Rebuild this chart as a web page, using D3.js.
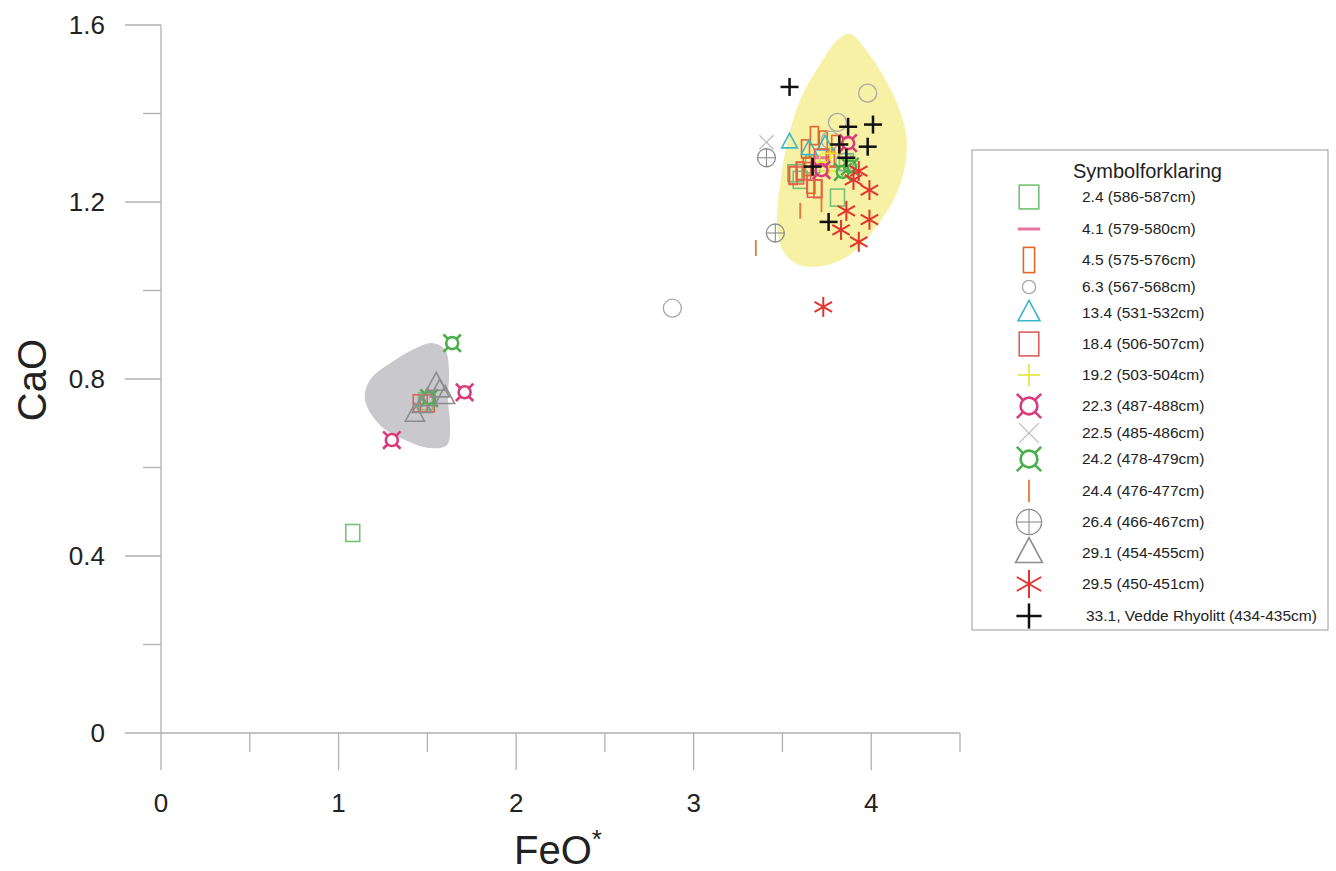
<!DOCTYPE html>
<html>
<head>
<meta charset="utf-8">
<script src="https://cdn.jsdelivr.net/npm/d3@7"></script>
<style>
  body { margin: 0; background: #fff; }
  svg { font-family: "Liberation Sans", Arial, sans-serif; }
</style>
</head>
<body>
<div id="chart"></div>
<script>
// series: [FeO*, CaO]
const s2_4 = [[1.08, 0.452], [3.57, 1.265], [3.81, 1.21], [3.67, 1.285], [3.86, 1.29], [3.60, 1.25], [1.49, 0.75]]
const s4_1 = [[3.72, 1.30], [3.78, 1.28]]
const s4_5 = [[3.63, 1.32], [3.68, 1.35], [3.60, 1.27], [3.70, 1.23], [3.77, 1.30], [3.66, 1.24], [3.56, 1.26], [3.73, 1.34], [3.80, 1.33], [3.64, 1.28]]
const s6_3 = [[3.98, 1.446], [3.81, 1.38], [2.88, 0.96], [3.77, 1.34], [3.85, 1.29]]
const s13_4 = [[3.54, 1.335], [3.74, 1.33], [3.65, 1.32]]
const s18_4 = [[1.46, 0.745], [1.50, 0.745], [3.68, 1.23], [3.62, 1.27], [3.72, 1.30], [3.58, 1.26]]
const s19_2 = [[3.71, 1.29], [3.77, 1.31], [3.76, 1.27]]
const s22_3 = [[1.30, 0.662], [1.71, 0.77], [3.87, 1.333], [3.72, 1.272]]
const s22_5 = [[3.41, 1.335]]
const s24_2 = [[1.64, 0.881], [1.51, 0.757], [3.84, 1.268], [3.88, 1.28]]
const s24_4 = [[3.35, 1.096], [3.60, 1.18], [3.72, 1.195]]
const s26_4 = [[3.41, 1.30], [3.46, 1.13]]
const s29_1 = [[1.43, 0.72], [1.50, 0.755], [1.55, 0.79], [1.57, 0.775], [1.47, 0.74], [1.60, 0.76]]
const s29_5 = [[3.93, 1.27], [3.99, 1.227], [3.86, 1.18], [3.99, 1.16], [3.83, 1.137], [3.93, 1.11], [3.73, 0.963], [3.90, 1.25]]
const s33_1 = [[3.54, 1.46], [4.01, 1.375], [3.98, 1.325], [3.87, 1.37], [3.82, 1.33], [3.67, 1.28], [3.86, 1.30], [3.76, 1.155]]

// envelopes
const yellowField = [[3.88, 1.580], [3.98, 1.539], [4.08, 1.476], [4.16, 1.408], [4.20, 1.340], [4.18, 1.261],
  [4.11, 1.193], [3.99, 1.125], [3.87, 1.078], [3.72, 1.055], [3.58, 1.060], [3.50, 1.092], [3.47, 1.159],
  [3.49, 1.250], [3.53, 1.340], [3.60, 1.431], [3.71, 1.510], [3.81, 1.566]]
const grayField = [[1.532, 0.881], [1.600, 0.866], [1.622, 0.820], [1.616, 0.753], [1.628, 0.696], [1.611, 0.651],
  [1.515, 0.644], [1.374, 0.662], [1.233, 0.696], [1.149, 0.753], [1.177, 0.798], [1.318, 0.843], [1.447, 0.872]]

const xTicks = [0, 1, 2, 3, 4]
const yTicks = [0, 0.4, 0.8, 1.2, 1.6]

const series = [
  { label: "2.4 (586-587cm)", sym: "rect", w: 14, h: 17, color: "#74c274", data: s2_4 },
  { label: "4.1 (579-580cm)", sym: "hbar", w: 16, color: "#e8749e", data: s4_1 },
  { label: "4.5 (575-576cm)", sym: "rect", w: 8, h: 18, color: "#e0662a", data: s4_5 },
  { label: "6.3 (567-568cm)", sym: "circle", r: 9, lr: 6, color: "#a8a8a8", data: s6_3 },
  { label: "13.4 (531-532cm)", sym: "tri", r: 9, color: "#3fb6c6", data: s13_4 },
  { label: "18.4 (506-507cm)", sym: "rect", w: 14, h: 17, color: "#e0605a", data: s18_4 },
  { label: "19.2 (503-504cm)", sym: "plus", r: 8, color: "#e4e436", data: s19_2 },
  { label: "22.3 (487-488cm)", sym: "curr", r: 6, color: "#d93a7e", data: s22_3 },
  { label: "22.5 (485-486cm)", sym: "x", r: 7, color: "#b8b8b8", data: s22_5 },
  { label: "24.2 (478-479cm)", sym: "curr", r: 6, color: "#4aaf4a", data: s24_2 },
  { label: "24.4 (476-477cm)", sym: "vbar", r: 8, color: "#e8763a", data: s24_4 },
  { label: "26.4 (466-467cm)", sym: "ocross", r: 9, color: "#8c8c8c", data: s26_4 },
  { label: "29.1 (454-455cm)", sym: "tri", r: 11, color: "#8c8c8c", data: s29_1 },
  { label: "29.5 (450-451cm)", sym: "ast", r: 10, color: "#e2332e", data: s29_5 },
  { label: "33.1, Vedde Rhyolitt (434-435cm)", sym: "plus", r: 9, color: "#111", sw: 2.5, data: s33_1 }
]

const width = 1336
const height = 871

const x = d3.scaleLinear().domain([0, 4.5]).range([161, 960])
const y = d3.scaleLinear().domain([0, 1.6]).range([733, 25])

const svg = d3.select("#chart").append("svg")
  .attr("width", width)
  .attr("height", height)

// draws one marker centred at 0,0 inside g, k scales it
function drawSymbol(g, s, k) {
  const c = s.color
  const sw = (s.sw || 1.6)
  const line = (x1, y1, x2, y2, w) => g.append("line")
    .attr("x1", x1).attr("y1", y1).attr("x2", x2).attr("y2", y2)
    .attr("stroke", c).attr("stroke-width", w || sw)
  if (s.sym == "rect") {
    g.append("rect").attr("x", -s.w * k / 2).attr("y", -s.h * k / 2)
      .attr("width", s.w * k).attr("height", s.h * k)
      .attr("fill", "none").attr("stroke", c).attr("stroke-width", sw)
  } else if (s.sym == "hbar") {
    line(-s.w * k / 2, 0, s.w * k / 2, 0, 3)
  } else if (s.sym == "vbar") {
    line(0, -s.r * k, 0, s.r * k, 1.8)
  } else if (s.sym == "circle") {
    g.append("circle").attr("r", k > 1 ? s.lr * 1.1 : s.r)
      .attr("fill", "none").attr("stroke", c).attr("stroke-width", 1.3)
  } else if (s.sym == "ocross") {
    const r = s.r * k
    g.append("circle").attr("r", r).attr("fill", "none").attr("stroke", c).attr("stroke-width", 1.3)
    line(-r, 0, r, 0, 1.1)
    line(0, -r, 0, r, 1.1)
  } else if (s.sym == "tri") {
    const r = s.r * k
    g.append("path").attr("d", `M0,${-r}L${r * 0.87},${r * 0.62}L${-r * 0.87},${r * 0.62}Z`)
      .attr("fill", "none").attr("stroke", c).attr("stroke-width", sw)
  } else if (s.sym == "plus") {
    const r = s.r * k
    line(-r, 0, r, 0)
    line(0, -r, 0, r)
  } else if (s.sym == "x") {
    const r = s.r * k
    line(-r, -r, r, r, 1.1)
    line(-r, r, r, -r, 1.1)
  } else if (s.sym == "curr") {
    const r = s.r * k
    g.append("circle").attr("r", r).attr("fill", "none").attr("stroke", c).attr("stroke-width", 2.6)
    const a = r * 0.7, b = r * 1.45
    line(a, a, b, b, 2.6); line(-a, a, -b, b, 2.6)
    line(a, -a, b, -b, 2.6); line(-a, -a, -b, -b, 2.6)
  } else if (s.sym == "ast") {
    const r = s.r * k
    line(0, -r, 0, r, 2)
    line(-r * 0.87, -r * 0.5, r * 0.87, r * 0.5, 2)
    line(-r * 0.87, r * 0.5, r * 0.87, -r * 0.5, 2)
  }
}

// fields
const area = d3.line().x(d => x(d[0])).y(d => y(d[1])).curve(d3.curveCatmullRomClosed.alpha(0.5))
svg.append("path").attr("d", area(yellowField)).attr("fill", "#f6f1a4")
svg.append("path").attr("d", area(grayField)).attr("fill", "#c9c9cd")

// axes
const axisColor = "#b0b0b0"
const ax = svg.append("g").attr("stroke", axisColor).attr("stroke-width", 1.3)
ax.append("line").attr("x1", 125).attr("x2", x(4.5)).attr("y1", y(0)).attr("y2", y(0))
ax.append("line").attr("x1", x(0)).attr("x2", x(0)).attr("y1", y(1.6)).attr("y2", 770)
ax.selectAll(".xt").data(d3.range(0.5, 4.51, 0.5)).join("line")
  .attr("x1", d => x(d)).attr("x2", d => x(d))
  .attr("y1", y(0)).attr("y2", d => Number.isInteger(d) ? 770 : 752)
ax.selectAll(".yt").data(d3.range(0.2, 1.61, 0.2)).join("line")
  .attr("y1", d => y(d)).attr("y2", d => y(d))
  .attr("x1", d => Math.round(d * 10) % 4 == 0 ? 125 : 143).attr("x2", x(0))

svg.append("g").selectAll("text").data(xTicks).join("text")
  .attr("x", d => x(d)).attr("y", 812)
  .attr("text-anchor", "middle").attr("font-size", 26).attr("fill", "#222")
  .text(d => d)
svg.append("g").selectAll("text").data(yTicks).join("text")
  .attr("x", 105).attr("y", d => y(d)).attr("dy", "0.36em")
  .attr("text-anchor", "end").attr("font-size", 26).attr("fill", "#222")
  .text(d => d == 0 ? "0" : d.toFixed(1))

svg.append("text")
  .attr("transform", `translate(46,380) rotate(-90)`)
  .attr("text-anchor", "middle").attr("font-size", 40).attr("fill", "#222")
  .text("CaO")
const xl = svg.append("text").attr("x", 558).attr("y", 864)
  .attr("text-anchor", "middle").attr("font-size", 40).attr("fill", "#222")
xl.append("tspan").text("FeO")
xl.append("tspan").attr("dy", -16).attr("font-size", 26).text("*")

// points
series.forEach(s => {
  svg.append("g").selectAll("g").data(s.data).join("g")
    .attr("transform", d => `translate(${x(d[0])},${y(d[1])})`)
    .each(function () { drawSymbol(d3.select(this), s, 1) })
})

// legend
const lg = svg.append("g").attr("transform", "translate(972,150)")
lg.append("rect").attr("width", 356).attr("height", 480)
  .attr("fill", "#fff").attr("stroke", "#9a9a9a").attr("stroke-width", 1)
lg.append("text").attr("x", 101).attr("y", 28).attr("font-size", 20).attr("fill", "#222")
  .text("Symbolforklaring")
const rowY = [47, 79, 110, 137, 163, 194, 225, 256, 283, 309, 341, 372, 403, 434, 466]
const rows = lg.selectAll(".row").data(series).join("g")
  .attr("transform", (d, i) => `translate(0,${rowY[i]})`)
rows.append("g").attr("transform", "translate(57,0)")
  .each(function (d) { drawSymbol(d3.select(this), d, 1.4) })
rows.append("text")
  .attr("x", (d, i) => i == 14 ? 114 : 110).attr("dy", "0.35em")
  .attr("font-size", 15.5).attr("fill", "#222")
  .text(d => d.label)
</script>
</body>
</html>
